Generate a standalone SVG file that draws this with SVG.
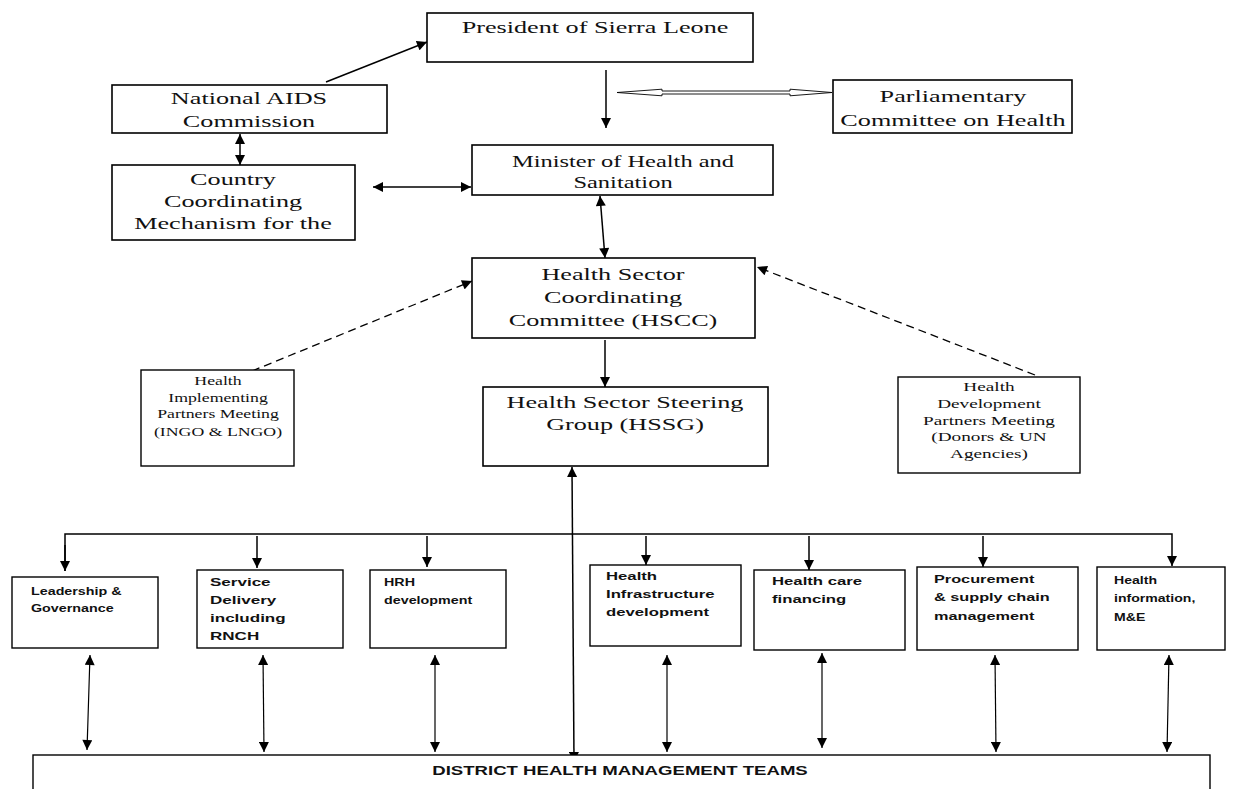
<svg xmlns="http://www.w3.org/2000/svg" width="1238" height="789" viewBox="0 0 1238 789">
<style>
.box{fill:#fff;stroke:#000;stroke-width:1.6}
.sbox{fill:#fff;stroke:#000;stroke-width:1.4}
.t{font-family:"Liberation Serif","Times New Roman",serif;font-size:17px;fill:#111}
.s{font-family:"Liberation Serif","Times New Roman",serif;font-size:12.5px;fill:#111}
.b{font-family:"Liberation Sans",Arial,sans-serif;font-size:11px;font-weight:bold;fill:#111}
.d{font-family:"Liberation Sans",Arial,sans-serif;font-size:12px;font-weight:bold;fill:#111}
.c{fill:none;stroke:#000;stroke-width:1.5}
.cb{fill:none;stroke:#000;stroke-width:1.2}
.dash{fill:none;stroke:#000;stroke-width:1.3;stroke-dasharray:8 5}
</style>
<defs>
<marker id="ah" viewBox="0 0 10 10" refX="10" refY="5" markerWidth="11" markerHeight="10" markerUnits="userSpaceOnUse" orient="auto-start-reverse">
<path d="M0,0 L10,5 L0,10 Z" fill="#000"/>
</marker>
</defs>
<rect width="1238" height="789" fill="#fff"/>

<g id="connectors">
<line class="c" x1="326" y1="82" x2="427" y2="42" marker-end="url(#ah)"/>
<line class="c" x1="606" y1="70" x2="606" y2="128" marker-end="url(#ah)"/>
<polygon points="617,92.5 662,89.2 662,91 790,91 790,89.2 832,92.5 790,95.8 790,94 662,94 662,95.8" fill="#fff" stroke="#000" stroke-width="0.9"/>
<line class="c" x1="240" y1="134" x2="240" y2="165" marker-start="url(#ah)" marker-end="url(#ah)"/>
<line class="c" x1="373" y1="187" x2="471" y2="187" marker-start="url(#ah)" marker-end="url(#ah)"/>
<line class="c" x1="600" y1="196" x2="605" y2="258" marker-start="url(#ah)" marker-end="url(#ah)"/>
<line class="c" x1="605" y1="340" x2="605" y2="387" marker-end="url(#ah)"/>
<line class="dash" x1="252" y1="371" x2="472" y2="281" marker-end="url(#ah)"/>
<line class="dash" x1="1035" y1="375" x2="757" y2="267" marker-end="url(#ah)"/>
<line class="c" x1="572" y1="467" x2="574" y2="762" marker-start="url(#ah)" marker-end="url(#ah)"/>
<polyline class="c" points="65,571 65,534 1172,534 1172,566" marker-end="url(#ah)"/>
<line class="c" x1="65" y1="545" x2="65" y2="571" marker-end="url(#ah)"/>
<line class="c" x1="257" y1="536" x2="257" y2="568" marker-end="url(#ah)"/>
<line class="c" x1="427" y1="536" x2="427" y2="567" marker-end="url(#ah)"/>
<line class="c" x1="646" y1="536" x2="646" y2="565" marker-end="url(#ah)"/>
<line class="c" x1="809" y1="536" x2="809" y2="570" marker-end="url(#ah)"/>
<line class="c" x1="983" y1="536" x2="983" y2="567" marker-end="url(#ah)"/>
<line class="cb" x1="90" y1="655" x2="87" y2="750" marker-start="url(#ah)" marker-end="url(#ah)"/>
<line class="cb" x1="263" y1="655" x2="264" y2="752" marker-start="url(#ah)" marker-end="url(#ah)"/>
<line class="cb" x1="435" y1="655" x2="435" y2="752" marker-start="url(#ah)" marker-end="url(#ah)"/>
<line class="cb" x1="667" y1="655" x2="667" y2="752" marker-start="url(#ah)" marker-end="url(#ah)"/>
<line class="cb" x1="822" y1="653" x2="822" y2="748" marker-start="url(#ah)" marker-end="url(#ah)"/>
<line class="cb" x1="995" y1="655" x2="996" y2="752" marker-start="url(#ah)" marker-end="url(#ah)"/>
<line class="cb" x1="1169" y1="655" x2="1167" y2="752" marker-start="url(#ah)" marker-end="url(#ah)"/>
</g>

<g id="president">
<rect class="box" x="427" y="13" width="326" height="49"/>
<text class="t" text-anchor="middle" transform="translate(595 0) scale(1.54 1)"><tspan x="0" y="33">President of Sierra Leone</tspan></text>
</g>
<g id="nac">
<rect class="box" x="112" y="85" width="275" height="48"/>
<text class="t" text-anchor="middle" transform="translate(249 0) scale(1.54 1)"><tspan x="0" y="104">National AIDS</tspan><tspan x="0" y="127">Commission</tspan></text>
</g>
<g id="parliament">
<rect class="box" x="833" y="80" width="239" height="53"/>
<text class="t" text-anchor="middle" transform="translate(953 0) scale(1.54 1)"><tspan x="0" y="102">Parliamentary</tspan><tspan x="0" y="126">Committee on Health</tspan></text>
</g>
<g id="ccm">
<rect class="box" x="112" y="165" width="243" height="75"/>
<text class="t" text-anchor="middle" transform="translate(233 0) scale(1.54 1)"><tspan x="0" y="185">Country</tspan><tspan x="0" y="207">Coordinating</tspan><tspan x="0" y="229">Mechanism for the</tspan></text>
</g>
<g id="minister">
<rect class="box" x="472" y="145" width="301" height="50"/>
<text class="t" text-anchor="middle" transform="translate(623 0) scale(1.44 1)"><tspan x="0" y="167">Minister of Health and</tspan><tspan x="0" y="188">Sanitation</tspan></text>
</g>
<g id="hscc">
<rect class="box" x="472" y="258" width="283" height="80"/>
<text class="t" text-anchor="middle" transform="translate(613 0) scale(1.54 1)"><tspan x="0" y="280">Health Sector</tspan><tspan x="0" y="303">Coordinating</tspan><tspan x="0" y="326">Committee (HSCC)</tspan></text>
</g>
<g id="implementing">
<rect class="sbox" x="141" y="370" width="153" height="96"/>
<text class="s" text-anchor="middle" transform="translate(218 0) scale(1.42 1)"><tspan x="0" y="385">Health</tspan><tspan x="0" y="402">Implementing</tspan><tspan x="0" y="418">Partners Meeting</tspan><tspan x="0" y="436">(INGO &amp; LNGO)</tspan></text>
</g>
<g id="hssg">
<rect class="box" x="483" y="387" width="285" height="79"/>
<text class="t" text-anchor="middle" transform="translate(625 0) scale(1.54 1)"><tspan x="0" y="408">Health Sector Steering</tspan><tspan x="0" y="430">Group (HSSG)</tspan></text>
</g>
<g id="development">
<rect class="sbox" x="898" y="377" width="182" height="96"/>
<text class="s" text-anchor="middle" transform="translate(989 0) scale(1.54 1)"><tspan x="0" y="391">Health</tspan><tspan x="0" y="408">Development</tspan><tspan x="0" y="425">Partners Meeting</tspan><tspan x="0" y="441">(Donors &amp; UN</tspan><tspan x="0" y="458">Agencies)</tspan></text>
</g>

<g id="leadership">
<rect class="sbox" x="12" y="577" width="146" height="71"/>
<text class="b" transform="translate(31 0) scale(1.3 1)"><tspan x="0" y="595">Leadership &amp;</tspan><tspan x="0" y="612">Governance</tspan></text>
</g>
<g id="service">
<rect class="sbox" x="197" y="570" width="146" height="78"/>
<text class="b" transform="translate(210 0) scale(1.55 1)"><tspan x="0" y="586">Service</tspan><tspan x="0" y="604">Delivery</tspan><tspan x="0" y="622">including</tspan><tspan x="0" y="640">RNCH</tspan></text>
</g>
<g id="hrh">
<rect class="sbox" x="370" y="570" width="136" height="78"/>
<text class="b" transform="translate(384 0) scale(1.3 1)"><tspan x="0" y="586">HRH</tspan><tspan x="0" y="604">development</tspan></text>
</g>
<g id="infrastructure">
<rect class="sbox" x="590" y="565" width="151" height="81"/>
<text class="b" transform="translate(606 0) scale(1.52 1)"><tspan x="0" y="580">Health</tspan><tspan x="0" y="598">Infrastructure</tspan><tspan x="0" y="616">development</tspan></text>
</g>
<g id="financing">
<rect class="sbox" x="754" y="570" width="151" height="80"/>
<text class="b" transform="translate(772 0) scale(1.52 1)"><tspan x="0" y="585">Health care</tspan><tspan x="0" y="603">financing</tspan></text>
</g>
<g id="procurement">
<rect class="sbox" x="917" y="567" width="161" height="83"/>
<text class="b" transform="translate(934 0) scale(1.48 1)"><tspan x="0" y="583">Procurement</tspan><tspan x="0" y="601">&amp; supply chain</tspan><tspan x="0" y="620">management</tspan></text>
</g>
<g id="information">
<rect class="sbox" x="1097" y="567" width="128" height="83"/>
<text class="b" transform="translate(1114 0) scale(1.28 1)"><tspan x="0" y="584">Health</tspan><tspan x="0" y="602">information,</tspan><tspan x="0" y="621">M&amp;E</tspan></text>
</g>
<g id="dhmt">
<rect class="sbox" x="33" y="755" width="1177" height="50"/>
<text class="d" text-anchor="middle" transform="translate(620 0) scale(1.55 1)"><tspan x="0" y="775">DISTRICT HEALTH MANAGEMENT TEAMS</tspan></text>
</g>
</svg>
